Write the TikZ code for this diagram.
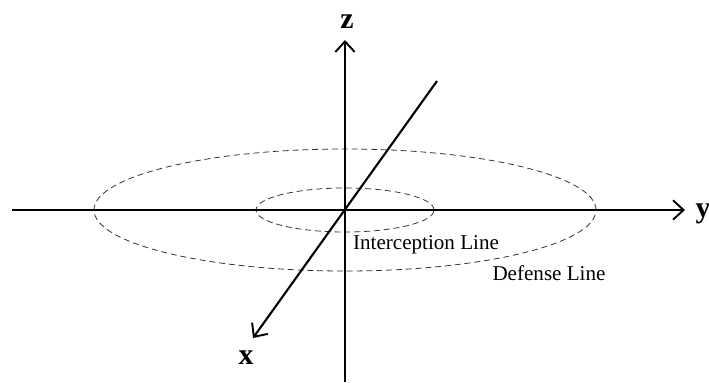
\documentclass[tikz,border=0pt]{standalone}
\usepackage{fontspec}
\setmainfont{Liberation Serif}
\usepackage{tikz}
\usetikzlibrary{arrows.meta,positioning}

\begin{document}
\begin{tikzpicture}[
x=0.02cm,y=0.02cm,
axis/.style={line width=1.2pt,-{Straight Barb[length=6pt,width=11pt,line width=1.1pt]}},
ring/.style={dashed,dash pattern=on 3.4pt off 2.2pt,line width=0.45pt,black!80},
lbl/.style={font=\fontsize{17}{20}\selectfont\bfseries,inner sep=0pt},
txt/.style={font=\fontsize{12}{14}\selectfont,inner sep=0pt}
]
\useasboundingbox (0,0) rectangle (709,382);
\coordinate (o) at (345,172);
\coordinate (ys) at (12,172);
\coordinate (ye) at (685,172);
\coordinate (zs) at (345,0);
\coordinate (ze) at (345,342);
\coordinate (xs) at (437,301);
\coordinate (xe) at (253,44);
% rings
\draw[ring] (o) ellipse [x radius=251,y radius=61];
\draw[ring] (o) ellipse [x radius=89,y radius=22];
% axes
\draw[axis] (ys) -- (ye);
\draw[axis] (zs) -- (ze);
\draw[axis] (xs) -- (xe);
\node[lbl] (zl) at (347,360) {z};
\node[lbl] (yl) at (703,168) {y};
\node[lbl] (xl) at (246,24) {x};
\node[txt] (il) at (426,137) {Interception Line};
\node[txt] (dl) at (549,109) {Defense Line};
\end{tikzpicture}
\end{document}
